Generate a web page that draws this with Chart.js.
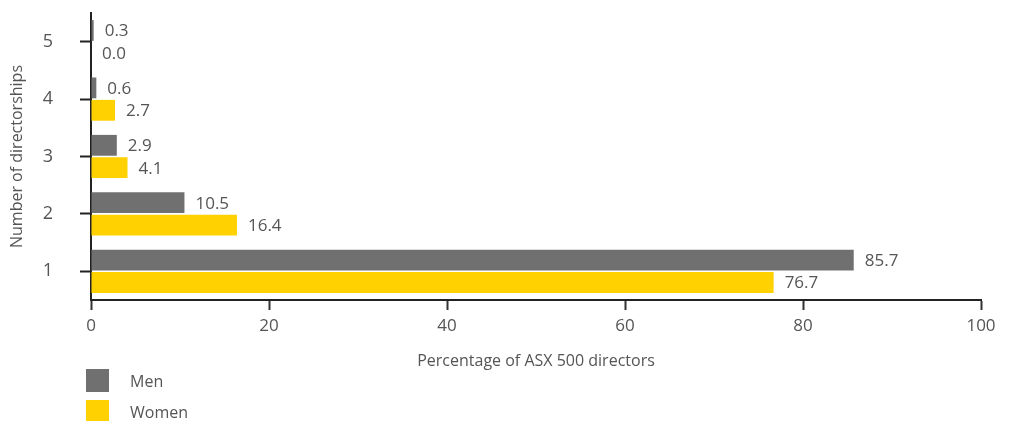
<!DOCTYPE html>
<html>
<head>
<meta charset="utf-8">
<script src="https://cdn.jsdelivr.net/npm/chart.js@4/dist/chart.umd.min.js"></script>
<style>
  body { margin: 0; background: #fff; font-family: 'Open Sans', sans-serif; }
  #wrap { position: relative; width: 1016px; height: 421px; }
  #box { position: absolute; left: 0; top: 0; width: 1016px; height: 372px; }
  #legend { position: absolute; left: 86px; top: 365px; }
  .item { display: flex; align-items: center; height: 31px; font-size: 16px; color: #555; }
  .swatch { width: 23px; height: 23px; margin-right: 21px; }
</style>
</head>
<body>
<div id="wrap">
  <div id="box"><canvas id="chart"></canvas></div>
  <div id="legend"></div>
</div>
<script>
// directorships held, top to bottom
const categories = ['5', '4', '3', '2', '1'];
const menValues = [0.3, 0.6, 2.9, 10.5, 85.7];
const womenValues = [0.0, 2.7, 4.1, 16.4, 76.7];
const seriesNames = ['Men', 'Women'];
const seriesColors = ['#707070', '#ffd100'];

// value labels at the end of each bar
const valueLabels = {
    id: 'valueLabels',
    afterDatasetsDraw(chart) {
        const ctx = chart.ctx;
        ctx.save();
        ctx.font = '17px "Open Sans", sans-serif';
        ctx.fillStyle = '#555';
        ctx.textBaseline = 'middle';
        ctx.textAlign = 'left';
        chart.data.datasets.forEach((ds, i) => {
            chart.getDatasetMeta(i).data.forEach((bar, j) => {
                ctx.fillText(ds.data[j].toFixed(1), bar.x + 11, bar.y + 1);
            });
        });
        ctx.restore();
    }
};

const chart = new Chart(document.getElementById('chart'), {
    type: 'bar',
    data: {
        labels: categories,
        datasets: [
            { label: seriesNames[0], data: menValues, backgroundColor: seriesColors[0] },
            { label: seriesNames[1], data: womenValues, backgroundColor: seriesColors[1] }
        ]
    },
    options: {
        indexAxis: 'y',
        responsive: true,
        maintainAspectRatio: false,
        animation: false,
        categoryPercentage: 0.78,
        barPercentage: 0.93,
        layout: { padding: { top: 13, right: 35, left: 0, bottom: 0 } },
        plugins: {
            legend: { display: false },
            tooltip: { enabled: false }
        },
        scales: {
            x: {
                min: 0,
                max: 100,
                ticks: { stepSize: 20, padding: 6, color: '#555', font: { size: 17, family: 'Open Sans' } },
                grid: { drawOnChartArea: false, tickLength: 10, color: '#333', tickWidth: 2 },
                border: { color: '#222', width: 2 },
                title: {
                    display: true,
                    text: 'Percentage of ASX 500 directors',
                    color: '#555',
                    font: { size: 16, family: 'Open Sans' },
                    padding: { top: 0, bottom: 1 }
                },
                afterFit(scale) { scale.height = 72; }
            },
            y: {
                ticks: { padding: 27, color: '#555', font: { size: 18, family: 'Open Sans' } },
                grid: { drawOnChartArea: false, offset: false, tickLength: 11, color: '#222', tickWidth: 2 },
                border: { color: '#222', width: 2 },
                title: {
                    display: true,
                    text: 'Number of directorships',
                    color: '#555',
                    font: { size: 16, family: 'Open Sans' },
                    padding: { top: 8, bottom: 0 }
                },
                afterFit(scale) {
                    scale.width = 91;
                    scale.paddingTop = 0;
                    scale.paddingBottom = 0;
                }
            }
        }
    },
    plugins: [valueLabels]
});

// legend stacked below the chart
const legend = document.getElementById('legend');
seriesNames.forEach((name, i) => {
    const item = document.createElement('div');
    item.className = 'item';
    item.innerHTML = '<span class="swatch" style="background:' + seriesColors[i] + '"></span>' + name;
    legend.appendChild(item);
});
</script>
</body>
</html>
